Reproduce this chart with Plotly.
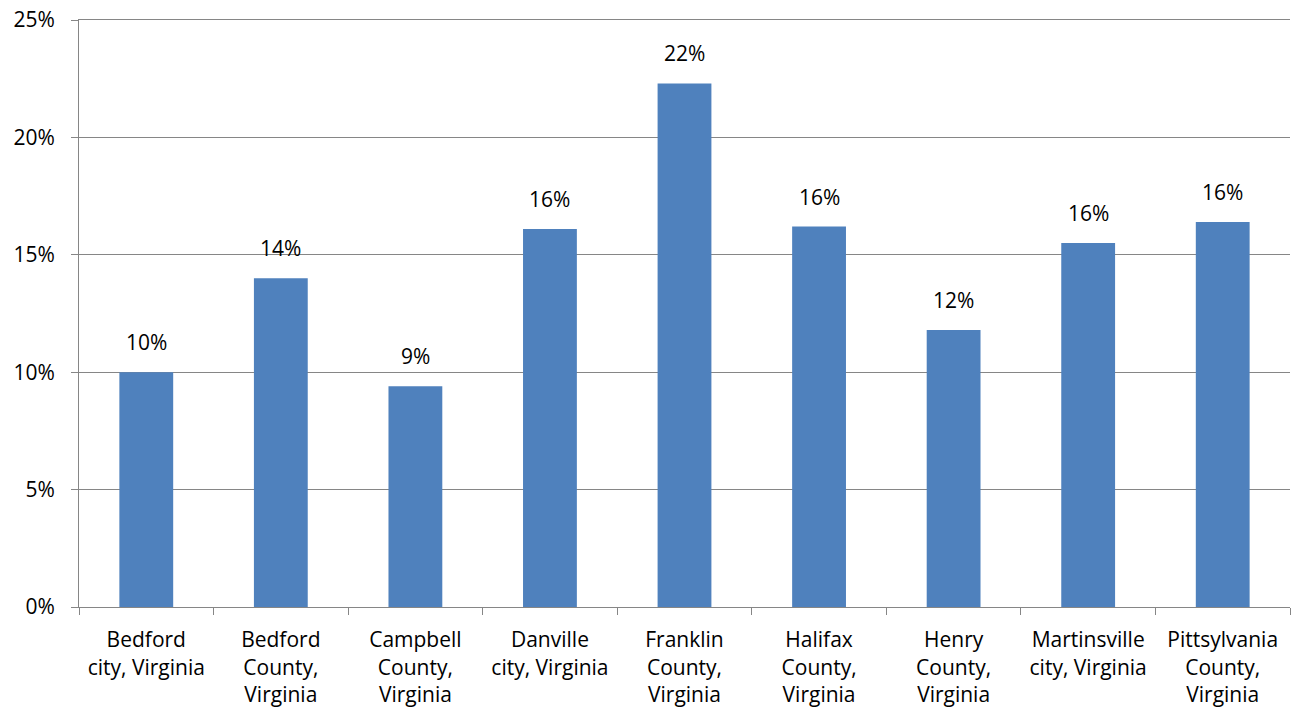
import plotly.graph_objects as go

categories = [
    "Bedford<br>city, Virginia",
    "Bedford<br>County,<br>Virginia",
    "Campbell<br>County,<br>Virginia",
    "Danville<br>city, Virginia",
    "Franklin<br>County,<br>Virginia",
    "Halifax<br>County,<br>Virginia",
    "Henry<br>County,<br>Virginia",
    "Martinsville<br>city, Virginia",
    "Pittsylvania<br>County,<br>Virginia",
]
values = [0.100, 0.140, 0.094, 0.161, 0.223, 0.162, 0.118, 0.155, 0.164]
y_ticks = [0, 0.05, 0.10, 0.15, 0.20, 0.25]

FONT = "Open Sans, Calibri, sans-serif"
FS = 21

fig = go.Figure(
    go.Bar(
        x=categories,
        y=values,
        marker=dict(color="#4F81BD", line=dict(width=0)),
        width=0.4,
        hoverinfo="x+y",
    )
)

for c, v in zip(categories, values):
    fig.add_annotation(
        x=c, y=v, text=f"{round(v * 100):d}%", showarrow=False,
        yanchor="bottom", yshift=14,
        font=dict(family=FONT, size=FS, color="#000000"),
    )

fig.update_layout(
    width=1291,
    height=721,
    margin=dict(l=79, r=1, t=20, b=114, autoexpand=False),
    paper_bgcolor="white",
    plot_bgcolor="white",
    showlegend=False,
    font=dict(family=FONT, size=FS, color="#000000"),
    bargap=0.6,
)
fig.update_xaxes(
    showline=True,
    mirror=True,
    linecolor="#868686",
    linewidth=1,
    ticks="outside",
    tickson="boundaries",
    ticklen=7,
    tickcolor="#868686",
    ticklabelstandoff=14,
    tickfont=dict(family=FONT, size=FS),
    showgrid=False,
    automargin=False,
)
fig.update_yaxes(
    range=[0, 0.25],
    tickvals=y_ticks,
    tickformat=".0%",
    showline=True,
    linecolor="#868686",
    linewidth=1,
    ticks="outside",
    ticklen=7,
    tickcolor="#868686",
    ticklabelstandoff=12,
    ticklabeloverflow="allow",
    showgrid=True,
    gridcolor="#868686",
    gridwidth=1,
    zeroline=False,
    tickfont=dict(family=FONT, size=FS),
    automargin=False,
)

fig.write_html(
    "out.html",
    config={"displayModeBar": False},
    post_script="document.body.style.margin='0';document.body.style.overflow='hidden';",
)
